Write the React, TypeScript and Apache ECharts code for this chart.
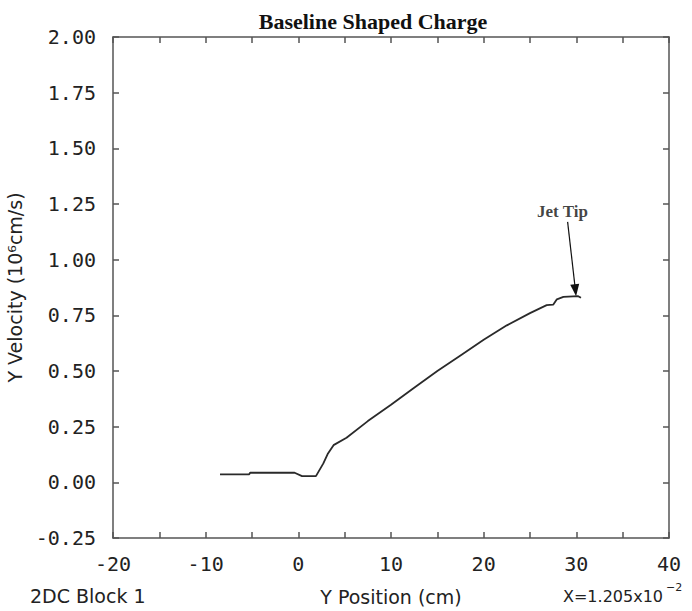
import React, { useEffect, useRef } from "react";
import * as echarts from "echarts";

const xPos = [-8.45, -5.3, -5.2, -0.4, 0.4, 1.9, 2.7, 3.2, 3.8, 5.2, 7.5, 10, 12.5, 15, 17.5, 20, 22.5, 25, 26.8, 27.5, 27.9, 28.6, 30.2, 30.5];
const yVel = [0.036, 0.036, 0.043, 0.043, 0.028, 0.028, 0.085, 0.13, 0.167, 0.2, 0.275, 0.348, 0.425, 0.5, 0.57, 0.64, 0.705, 0.76, 0.796, 0.798, 0.822, 0.833, 0.836, 0.829];
const arrowFrom = [29.06, 1.17];
const arrowTo = [29.9, 0.863];
const tipLabelPos = [28.5, 1.215];

const axisColor = "#555";
const labelFont = "'DejaVu Sans Mono', monospace";
const sansFont = "'DejaVu Sans', 'Liberation Sans', sans-serif";

export default function App() {
  const ref = useRef<HTMLDivElement>(null);
  useEffect(() => {
    document.body.style.margin = "0";
    const chart = echarts.init(ref.current!, null, { renderer: "svg" });
    const lineData = xPos.map((x, i) => [x, yVel[i]]);
    const xCommon = {
      type: "value",
      min: -20,
      max: 40,
      interval: 10,
      axisLine: { show: true, onZero: false, lineStyle: { color: axisColor, width: 1.5 } },
      splitLine: { show: false },
      axisTick: { show: true, inside: true, length: 6, lineStyle: { color: axisColor, width: 1.5 } },
      minorTick: { show: true, splitNumber: 2, length: 6, lineStyle: { color: axisColor, width: 1.5 } },
    };
    const yCommon = {
      type: "value",
      min: -0.25,
      max: 2.0,
      interval: 0.25,
      axisLine: { show: true, onZero: false, lineStyle: { color: axisColor, width: 1.5 } },
      splitLine: { show: false },
      axisTick: { show: true, inside: true, length: 6, lineStyle: { color: axisColor, width: 1.5 } },
    };
    chart.setOption({
      animation: false,
      backgroundColor: "#fff",
      title: {
        text: "Baseline Shaped Charge",
        left: 368,
        textAlign: "center",
        top: 5,
        textStyle: { fontFamily: "'Liberation Serif', 'DejaVu Serif', serif", fontWeight: "bold", fontSize: 22, color: "#111" },
      },
      grid: { left: 113, top: 37, right: 23, bottom: 73, containLabel: false, outerBoundsMode: "none" },
      xAxis: [
        {
          ...xCommon,
          position: "bottom",
          name: "Y Position (cm)",
          nameLocation: "middle",
          nameGap: 49,
          nameTextStyle: { fontFamily: sansFont, fontSize: 19, color: "#222" },
          axisLabel: { show: true, margin: 16, fontFamily: labelFont, fontSize: 20, color: "#222" },
        },
        { ...xCommon, position: "top", axisLabel: { show: false } },
      ],
      yAxis: [
        {
          ...yCommon,
          position: "left",
          name: "Y Velocity (10⁶cm/s)",
          nameLocation: "middle",
          nameGap: 87,
          nameRotate: 90,
          nameTextStyle: { fontFamily: sansFont, fontSize: 19, color: "#222" },
          axisLabel: { show: true, margin: 17, fontFamily: labelFont, fontSize: 20, color: "#222", formatter: (v: number) => v.toFixed(2) },
        },
        { ...yCommon, position: "right", axisLabel: { show: false } },
      ],
      graphic: [
        {
          type: "text",
          left: 30,
          top: 586,
          style: { text: "2DC Block 1", fontFamily: sansFont, fontSize: 19, fill: "#222" },
        },
        {
          type: "text",
          left: 563,
          top: 588,
          style: { text: "X=1.205x10", fontFamily: sansFont, fontSize: 16, fill: "#222" },
        },
        {
          type: "text",
          left: 666,
          top: 582,
          style: { text: "−2", fontFamily: sansFont, fontSize: 11, fill: "#222" },
        },
      ],
      series: [
        {
          type: "line",
          data: lineData,
          xAxisIndex: 0,
          yAxisIndex: 0,
          symbol: "none",
          lineStyle: { color: "#2a2a2a", width: 1.8 },
          silent: true,
          markLine: {
            silent: true,
            symbol: ["none", "triangle"],
            symbolSize: [9, 12],
            lineStyle: { color: "#111", width: 1.2, type: "solid" },
            label: { show: false },
            data: [[{ coord: arrowFrom }, { coord: arrowTo }]],
          },
        },
        {
          type: "scatter",
          data: [tipLabelPos],
          symbolSize: 0,
          silent: true,
          label: {
            show: true,
            position: "inside",
            formatter: "Jet Tip",
            fontFamily: "'Liberation Serif', 'DejaVu Serif', serif",
            fontWeight: "bold",
            fontSize: 17,
            color: "#111",
          },
        },
      ],
    });
    return () => chart.dispose();
  }, []);
  return <div ref={ref} style={{ width: 692, height: 611 }} />;
}
